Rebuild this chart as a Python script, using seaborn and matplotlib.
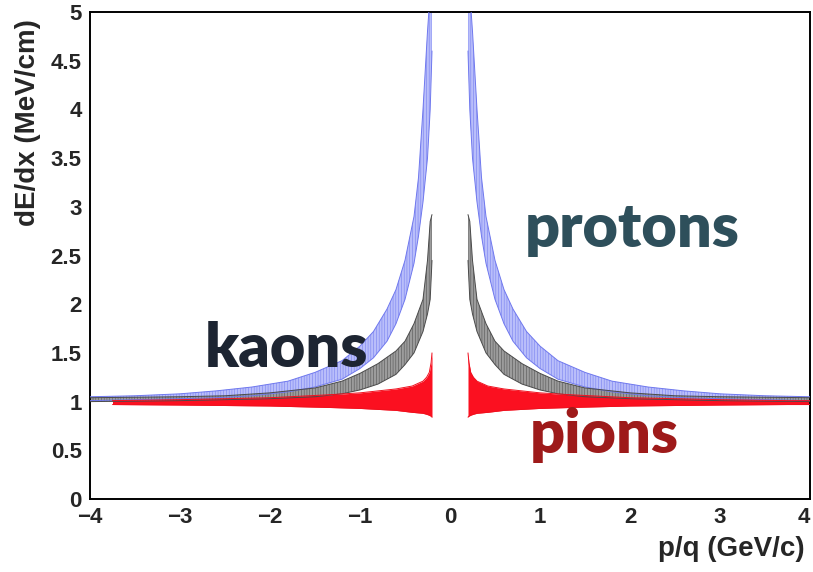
import matplotlib
matplotlib.use("Agg")
import matplotlib.pyplot as plt
from matplotlib.ticker import MultipleLocator, FuncFormatter
import numpy as np
import pandas as pd
import seaborn as sns

# |p/q| nodes (GeV/c) with lower / upper edge of each dE/dx band (MeV/cm)
proton_p  = [0.20, 0.22, 0.25, 0.30, 0.35, 0.40, 0.50, 0.60, 0.70, 0.85, 1.00, 1.20, 1.50, 1.80, 2.20, 2.60, 3.00, 3.50, 4.00]
proton_lo = [4.60, 4.00, 3.50, 3.05, 2.70, 2.42, 2.05, 1.80, 1.62, 1.45, 1.34, 1.23, 1.15, 1.10, 1.06, 1.04, 1.03, 1.02, 1.01]
proton_hi = [5.30, 5.20, 4.80, 4.00, 3.30, 2.90, 2.45, 2.15, 1.95, 1.72, 1.57, 1.42, 1.30, 1.21, 1.15, 1.11, 1.08, 1.06, 1.05]

kaon_p  = [0.20, 0.22, 0.25, 0.30, 0.40, 0.50, 0.60, 0.80, 1.00, 1.20, 1.50, 2.00, 2.50, 3.00, 4.00]
kaon_lo = [2.45, 2.05, 1.90, 1.72, 1.50, 1.38, 1.28, 1.18, 1.12, 1.08, 1.05, 1.03, 1.02, 1.01, 1.00]
kaon_hi = [2.92, 2.85, 2.45, 2.05, 1.80, 1.62, 1.52, 1.39, 1.29, 1.21, 1.14, 1.09, 1.06, 1.05, 1.04]

pion_p  = [0.20, 0.21, 0.23, 0.26, 0.30, 0.42, 0.60, 0.80, 1.00, 1.35, 2.00, 3.00, 3.75, 4.00]
pion_lo = [0.84, 0.85, 0.86, 0.87, 0.88, 0.89, 0.91, 0.92, 0.93, 0.94, 0.955, 0.965, 0.97, 0.97]
pion_hi = [1.50, 1.40, 1.30, 1.25, 1.21, 1.16, 1.13, 1.11, 1.09, 1.07, 1.04, 1.02, 1.01, 1.01]
pion_neg_reach = 3.75  # negative-charge pion band ends at p/q = -3.75

x_ticks = [-4, -3, -2, -1, 0, 1, 2, 3, 4]
y_ticks = [0, 0.5, 1, 1.5, 2, 2.5, 3, 3.5, 4, 4.5, 5]

sns.set_theme(style="white")
plt.rcParams["font.family"] = ["Liberation Sans", "DejaVu Sans"]
plt.rcParams["hatch.linewidth"] = 0.35

fig = plt.figure(figsize=(8.13, 5.72), dpi=100)
ax = fig.add_axes([0.1107, 0.1276, 0.8856, 0.8514])

bands = [
    ("protons", proton_p, proton_lo, proton_hi, "#b9befa", "#6f78ee", "||||||", 4.0),
    ("kaons", kaon_p, kaon_lo, kaon_hi, "#9c9c9c", "#4a4a4a", "||||||", 4.0),
    ("pions", pion_p, pion_lo, pion_hi, "#fb1020", "#f0101e", None, pion_neg_reach),
]

for name, p, lo, hi, fill, edge, hatch, neg_reach in bands:
    base = pd.DataFrame({"p": p, "lo": lo, "hi": hi})
    for sign in (-1, 1):
        df = base if sign > 0 else base[base["p"] <= neg_reach + 1e-9]
        df = df.assign(p=sign * df["p"])
        ax.fill_between(df["p"], df["lo"], df["hi"], facecolor=fill,
                        edgecolor=edge if hatch else fill, hatch=hatch, lw=0, zorder=2)
        sns.lineplot(data=df, x="p", y="lo", ax=ax, color=edge, lw=0.7, zorder=3, sort=False)
        sns.lineplot(data=df, x="p", y="hi", ax=ax, color=edge, lw=0.7, zorder=3, sort=False)

ax.set_xlim(-4, 4)
ax.set_ylim(0, 5)

ax.xaxis.set_minor_locator(MultipleLocator(0.2))
ax.yaxis.set_minor_locator(MultipleLocator(0.1))
ax.set_xticks(x_ticks)
ax.set_yticks(y_ticks)
fmt = FuncFormatter(lambda v, _: ("%g" % v).replace("-", "\u2212"))
ax.xaxis.set_major_formatter(fmt)
ax.yaxis.set_major_formatter(fmt)

ax.tick_params(axis="both", which="both", direction="in", color="black", width=1.0,
               top=False, right=False)
ax.tick_params(axis="x", which="major", length=14, pad=6)
ax.tick_params(axis="x", which="minor", length=8)
ax.tick_params(axis="y", which="major", length=22, pad=6)
ax.tick_params(axis="y", which="minor", length=11)
for lab in ax.get_xticklabels() + ax.get_yticklabels():
    lab.set_fontweight("bold")
    lab.set_fontsize(16)
ax.get_xticklabels()[-1].set_horizontalalignment("right")

for side in ["left", "bottom", "top", "right"]:
    ax.spines[side].set_visible(True)
    ax.spines[side].set_color("black")
    ax.spines[side].set_linewidth(1.4)

ax.set_xlabel("p/q (GeV/c)", fontsize=20, fontweight="bold", loc="right")
ax.set_ylabel("dE/dx (MeV/cm)", fontsize=20, fontweight="bold", loc="top")
ax.xaxis.set_label_coords(0.992, -0.075)
ax.yaxis.set_label_coords(-0.068, 0.985)

label_font = ["Lato", "DejaVu Sans"]
ax.text(2.02, 2.59, "protons", color="#2e4f5b", fontsize=44, fontweight="heavy",
        family=label_font, ha="center", va="baseline", zorder=5)
ax.text(-1.82, 1.36, "kaons", color="#1d2532", fontsize=44, fontweight="heavy",
        family=label_font, ha="center", va="baseline", zorder=5)
ax.text(1.71, 0.47, "pions", color="#9e1a1a", fontsize=44, fontweight="heavy",
        family=label_font, ha="center", va="baseline", zorder=5)

fig.savefig("out.png", dpi=100)
